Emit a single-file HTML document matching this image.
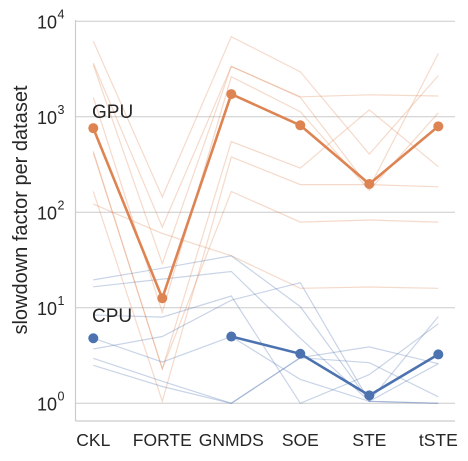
<!DOCTYPE html>
<html><head><meta charset="utf-8"><style>
html,body{margin:0;padding:0;background:#fff;}
svg{display:block;font-family:"Liberation Sans",sans-serif;}
</style></head><body>
<svg id="chart" width="468" height="461" viewBox="0 0 468 461" xmlns="http://www.w3.org/2000/svg">
<g id="grid"></g>
<g id="thin"></g>
<g id="main"></g>
<g id="axes"></g>
</svg>
<script>
const categories = ["CKL","FORTE","GNMDS","SOE","STE","tSTE"];
const yTickExps = [0,1,2,3,4];
const gpuMean = [760,12.6,1730,815,198,795];
const cpuMean = [4.8,null,5.0,3.3,1.21,3.25];
const gpuThin = [
 [6200,145,6900,2960,407,2700],
 [3650,70,3370,1620,1700,1650],
 [3500,29,3370,1600,180,4600],
 [1600,9,2630,1130,170,1100],
 [435,2.3,550,290,1180,300],
 [165,1.05,380,195,195,185],
 [122,60,35,16,16.5,16],
 [420,2.3,165,79,83,79]
];
const cpuThin = [
 [19.6,26,35,10.3,1.05,1.0],
 [16.6,20,24,4.8,1.05,2.6],
 [8.4,8,13.3,1.0,2.0,6.8],
 [3.7,5,12,18.3,1.05,8.1],
 [2.96,1.7,1.0,3.0,3.9,2.6],
 [2.5,1.5,1.0,3.0,2.66,1.17],
 [4.8,2.7,5.0,1.78,1.05,1.0]
];
const NS="http://www.w3.org/2000/svg";
const X0=93.3, DX=69;
function xs(i){return X0+i*DX;}
function ys(v){return 403.3-95.5*Math.log10(v);}
function mk(tag,attrs,parent){const e=document.createElementNS(NS,tag);for(const k in attrs)e.setAttribute(k,attrs[k]);parent.appendChild(e);return e;}
const grid=document.getElementById('grid'),thin=document.getElementById('thin'),main=document.getElementById('main'),axes=document.getElementById('axes');
yTickExps.forEach(e=>{
 const y=ys(Math.pow(10,e));
 const l=mk('line',{x1:75.5,x2:455,y1:y,y2:y,stroke:'#cccccc','stroke-width':1},grid);
 
 
 const t=mk('text',{x:57,y:y+7,'font-size':18,fill:'#262626','text-anchor':'end'},axes);
 t.textContent='10';
 
 
 const s=mk('text',{x:57.5,y:y-3,'font-size':12.5,fill:'#262626'},axes);
 s.textContent=String(e);
 
 
});
function path(vals){let d='',pen=false;vals.forEach((v,i)=>{if(v==null){pen=false;return;}d+=(pen?'L':'M')+xs(i).toFixed(1)+','+ys(v).toFixed(1);pen=true;});return d;}
gpuThin.forEach(r=>{const p=mk('path',{d:path(r),fill:'none',stroke:'#dd8452','stroke-opacity':0.3,'stroke-width':1.2},thin);
 
 });
cpuThin.forEach(r=>{const p=mk('path',{d:path(r),fill:'none',stroke:'#4c72b0','stroke-opacity':0.3,'stroke-width':1.2},thin);
 
 });
[[gpuMean,'#dd8452','gpu'],[cpuMean,'#4c72b0','cpu']].forEach(([vals,c,n])=>{
 const p=mk('path',{d:path(vals),fill:'none',stroke:c,'stroke-width':2.6},main);
 
 
 vals.forEach((v,i)=>{if(v==null)return;const m=mk('circle',{cx:xs(i),cy:ys(v),r:5,fill:c},main);
  
  });
});
mk('line',{x1:75.5,x2:75.5,y1:20,y2:421,stroke:'#cccccc','stroke-width':1.2},axes);
mk('line',{x1:75.5,x2:455,y1:421,y2:421,stroke:'#cccccc','stroke-width':1.2},axes);
categories.forEach((c,i)=>{const t=mk('text',{x:xs(i),y:446,'font-size':17.5,fill:'#262626','text-anchor':'middle'},axes);
 t.textContent=c;
 
 });
const yt=mk('text',{x:0,y:0,'font-size':20,fill:'#262626','text-anchor':'middle',transform:'translate(27,210) rotate(-90)'},axes);
yt.textContent='slowdown factor per dataset';


const g=mk('text',{x:92,y:118,'font-size':19,fill:'#262626'},axes);g.textContent='GPU';


const cp=mk('text',{x:92,y:322,'font-size':19,fill:'#262626'},axes);cp.textContent='CPU';


</script>
</body></html>
